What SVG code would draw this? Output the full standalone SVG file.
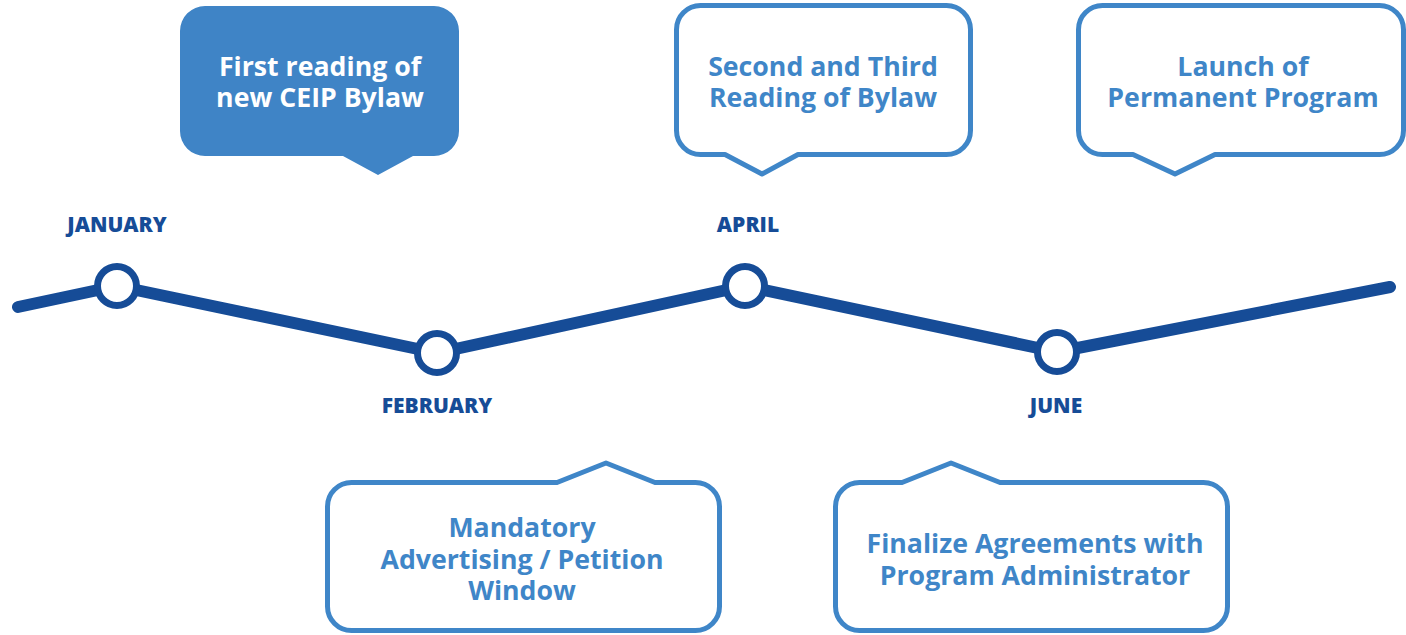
<svg xmlns="http://www.w3.org/2000/svg" width="1406" height="635" viewBox="0 0 1406 635">
<style>
.bub{fill:#fff;stroke:#3F86C8;stroke-width:5;stroke-linejoin:round}
.bubf{fill:#3F84C6}
.bt{font-family:"Open Sans","Liberation Sans",sans-serif;font-weight:700;font-size:26.7px;fill:#3F86C8;text-anchor:middle}
.wt{fill:#fff}
.mt{font-family:"Open Sans","Liberation Sans",sans-serif;font-weight:800;font-size:21px;fill:#164C97;text-anchor:middle}
.dot{fill:#fff;stroke:#164C97;stroke-width:7}
</style>
<rect width="1406" height="635" fill="#fff"/>
<g id="connectors">
<polyline points="18,307 117,286 437,353 745,286 1057,352 1390,287" fill="none" stroke="#164C97" stroke-width="12" stroke-linecap="round" stroke-linejoin="round"/>
</g>
<g id="jan"><circle class="dot" cx="117" cy="286" r="19.5"/><text class="mt" x="117" y="232">JANUARY</text></g>
<g id="feb"><circle class="dot" cx="437" cy="353" r="19.5"/><text class="mt" x="437" y="413">FEBRUARY</text></g>
<g id="apr"><circle class="dot" cx="745" cy="286" r="19.5"/><text class="mt" x="748" y="232">APRIL</text></g>
<g id="jun"><circle class="dot" cx="1057" cy="352" r="19.5"/><text class="mt" x="1056" y="413">JUNE</text></g>
<g id="b1">
<path class="bubf" d="M205,6 H434 A25,25 0 0 1 459,31 V131 A25,25 0 0 1 434,156 H413 L378,175 L343,156 H205 A25,25 0 0 1 180,131 V31 A25,25 0 0 1 205,6 Z"/>
<text class="bt wt" x="320" y="76">First reading of</text>
<text class="bt wt" x="320" y="107">new CEIP Bylaw</text>
</g>
<g id="b2">
<path class="bub" d="M700.5,5.5 H946.5 A24,24 0 0 1 970.5,29.5 V130.5 A24,24 0 0 1 946.5,154.5 H798 L762,174 L725,154.5 H700.5 A24,24 0 0 1 676.5,130.5 V29.5 A24,24 0 0 1 700.5,5.5 Z"/>
<text class="bt" x="823" y="76">Second and Third</text>
<text class="bt" x="823" y="107">Reading of Bylaw</text>
</g>
<g id="b3">
<path class="bub" d="M1102.5,5.5 H1379.5 A24,24 0 0 1 1403.5,29.5 V130.5 A24,24 0 0 1 1379.5,154.5 H1215 L1175,174 L1133,154.5 H1102.5 A24,24 0 0 1 1078.5,130.5 V29.5 A24,24 0 0 1 1102.5,5.5 Z"/>
<text class="bt" x="1243" y="76">Launch of</text>
<text class="bt" x="1243" y="107">Permanent Program</text>
</g>
<g id="b4">
<path class="bub" d="M351.5,482.5 H557 L606,463 L655,482.5 H695.5 A24,24 0 0 1 719.5,506.5 V606.5 A24,24 0 0 1 695.5,630.5 H351.5 A24,24 0 0 1 327.5,606.5 V506.5 A24,24 0 0 1 351.5,482.5 Z"/>
<text class="bt" x="522" y="537">Mandatory</text>
<text class="bt" x="522" y="569">Advertising / Petition</text>
<text class="bt" x="522" y="600">Window</text>
</g>
<g id="b5">
<path class="bub" d="M859.5,482.5 H902 L951,463 L1000,482.5 H1203.5 A24,24 0 0 1 1227.5,506.5 V606.5 A24,24 0 0 1 1203.5,630.5 H859.5 A24,24 0 0 1 835.5,606.5 V506.5 A24,24 0 0 1 859.5,482.5 Z"/>
<text class="bt" x="1035" y="553">Finalize Agreements with</text>
<text class="bt" x="1035" y="585">Program Administrator</text>
</g>
</svg>
